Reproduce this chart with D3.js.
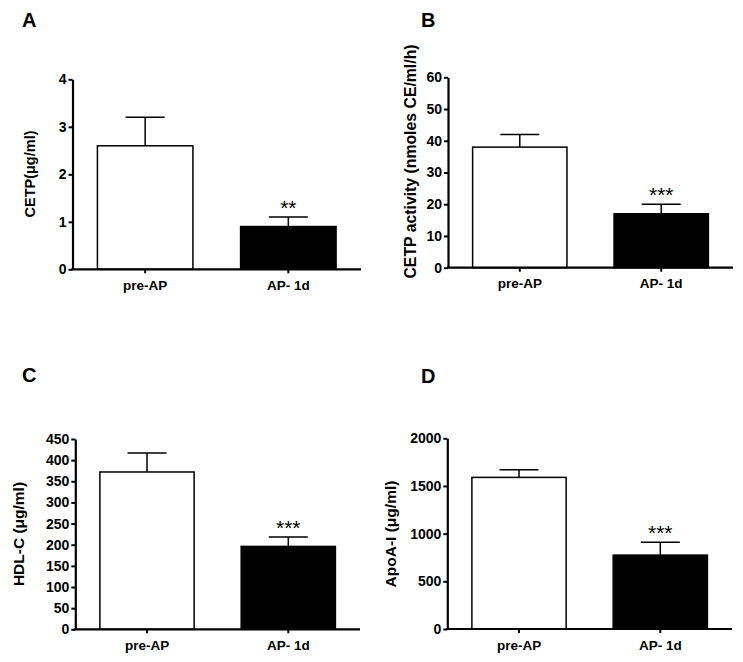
<!DOCTYPE html>
<html>
<head>
<meta charset="utf-8">
<script src="https://cdn.jsdelivr.net/npm/d3@7"></script>
<style>
  html, body { margin: 0; padding: 0; background: #fff; }
  svg { display: block; }
  text { font-family: "Liberation Sans", Arial, sans-serif; }
</style>
</head>
<body>
<svg id="chart" width="743" height="662"></svg>
<script>
// ---------- data ----------
const categories = ["pre-AP", "AP- 1d"];

const cetpMean = [2.6, 0.9];
const cetpErr = [0.6, 0.2];
const cetpSig = ["", "**"];
const cetpTicks = [0, 1, 2, 3, 4];

const activityMean = [38, 17];
const activityErr = [4, 3];
const activitySig = ["", "***"];
const activityTicks = [0, 10, 20, 30, 40, 50, 60];

const hdlMean = [372, 196];
const hdlErr = [45, 22];
const hdlSig = ["", "***"];
const hdlTicks = [0, 50, 100, 150, 200, 250, 300, 350, 400, 450];

const apoMean = [1590, 775];
const apoErr = [80, 135];
const apoSig = ["", "***"];
const apoTicks = [0, 500, 1000, 1500, 2000];

const panelLetters = ["A", "B", "C", "D"];
const yLabels = ["CETP(\u03bcg/ml)", "CETP activity (nmoles CE/ml/h)", "HDL-C (\u03bcg/ml)", "ApoA-I (\u03bcg/ml)"];
const fills = ["#ffffff", "#000000"];

// ---------- layout ----------
const panels = [
  { letter: panelLetters[0], ylabel: yLabels[0], mean: cetpMean, err: cetpErr, sig: cetpSig, ticks: cetpTicks,
    ax: 72.5, top: 79.3, bottom: 269.3, xEnd: 361, letterX: 22, letterY: 27, labelX: 30, labelY: 174, labelSize: 14.5 },
  { letter: panelLetters[1], ylabel: yLabels[1], mean: activityMean, err: activityErr, sig: activitySig, ticks: activityTicks,
    ax: 448, top: 77.3, bottom: 267.7, xEnd: 733, letterX: 421, letterY: 27, labelX: 410, labelY: 161.5, labelSize: 15.8 },
  { letter: panelLetters[2], ylabel: yLabels[2], mean: hdlMean, err: hdlErr, sig: hdlSig, ticks: hdlTicks,
    ax: 75.3, top: 439, bottom: 629.3, xEnd: 360, letterX: 22, letterY: 382, labelX: 18.5, labelY: 534, labelSize: 15.5 },
  { letter: panelLetters[3], ylabel: yLabels[3], mean: apoMean, err: apoErr, sig: apoSig, ticks: apoTicks,
    ax: 447.3, top: 438.3, bottom: 629, xEnd: 732, letterX: 421, letterY: 383, labelX: 390, labelY: 534, labelSize: 15.5 }
];

const svg = d3.select("#chart");

panels.forEach(p => {
  const g = svg.append("g");
  const tickMax = d3.max(p.ticks);
  const y = d3.scaleLinear().domain([0, tickMax]).range([p.bottom, p.top]);
  const x = d3.scaleBand().domain(categories).range([p.ax, p.xEnd])
    .paddingInner(0.333).paddingOuter(0.174);

  // panel letter
  g.append("text").attr("x", p.letterX).attr("y", p.letterY)
    .attr("font-size", 20).attr("font-weight", "bold").text(p.letter);

  const data = categories.map((c, i) => ({ c, m: p.mean[i], e: p.err[i], s: p.sig[i], f: fills[i] }));

  // error bars (upward)
  const eb = g.append("g").attr("stroke", "#000").attr("stroke-width", 1.5).attr("fill", "none");
  data.forEach(d => {
    const cx = x(d.c) + x.bandwidth() / 2;
    eb.append("line").attr("x1", cx).attr("x2", cx).attr("y1", y(d.m)).attr("y2", y(d.m + d.e));
    eb.append("line").attr("x1", cx - 19.5).attr("x2", cx + 19.5).attr("y1", y(d.m + d.e)).attr("y2", y(d.m + d.e));
  });

  // bars
  g.append("g").selectAll("rect").data(data).join("rect")
    .attr("x", d => x(d.c))
    .attr("y", d => y(d.m))
    .attr("width", x.bandwidth())
    .attr("height", d => p.bottom - y(d.m))
    .attr("fill", d => d.f)
    .attr("stroke", "#000")
    .attr("stroke-width", 1.5);

  // significance
  g.append("g").selectAll("text").data(data.filter(d => d.s)).join("text")
    .attr("x", d => x(d.c) + x.bandwidth() / 2)
    .attr("y", d => y(d.m + d.e) - 2)
    .attr("text-anchor", "middle")
    .attr("font-size", 21)
    .text(d => d.s);

  // y axis
  const yAxis = d3.axisLeft(y).tickValues(p.ticks).tickSize(4).tickSizeOuter(0).tickPadding(2)
    .tickFormat(d3.format("d"));
  const ya = g.append("g").attr("transform", `translate(${p.ax},0)`).call(yAxis);
  ya.select(".domain").attr("stroke", "#000").attr("stroke-width", 2.2);
  ya.selectAll(".tick line").attr("stroke", "#000").attr("stroke-width", 2);
  ya.selectAll(".tick text").attr("font-size", 14).attr("font-weight", "bold")
    .attr("font-family", "'Liberation Sans', Arial, sans-serif").attr("fill", "#000");

  // x axis
  const xAxis = d3.axisBottom(x).tickSize(4).tickSizeOuter(0).tickPadding(7);
  const xa = g.append("g").attr("transform", `translate(0,${p.bottom})`).call(xAxis);
  xa.select(".domain").attr("stroke", "#000").attr("stroke-width", 2.2)
    .attr("d", `M${p.ax - 1.1},0H${p.xEnd}`);
  xa.selectAll(".tick line").attr("stroke", "#000").attr("stroke-width", 2);
  xa.selectAll(".tick text").attr("font-size", 13.5).attr("font-weight", "bold")
    .attr("font-family", "'Liberation Sans', Arial, sans-serif").attr("fill", "#000");

  // y label
  g.append("text")
    .attr("transform", `translate(${p.labelX},${p.labelY}) rotate(-90)`)
    .attr("text-anchor", "middle").attr("dominant-baseline", "central")
    .attr("font-size", p.labelSize).attr("font-weight", "bold")
    .text(p.ylabel);
});
</script>
</body>
</html>
